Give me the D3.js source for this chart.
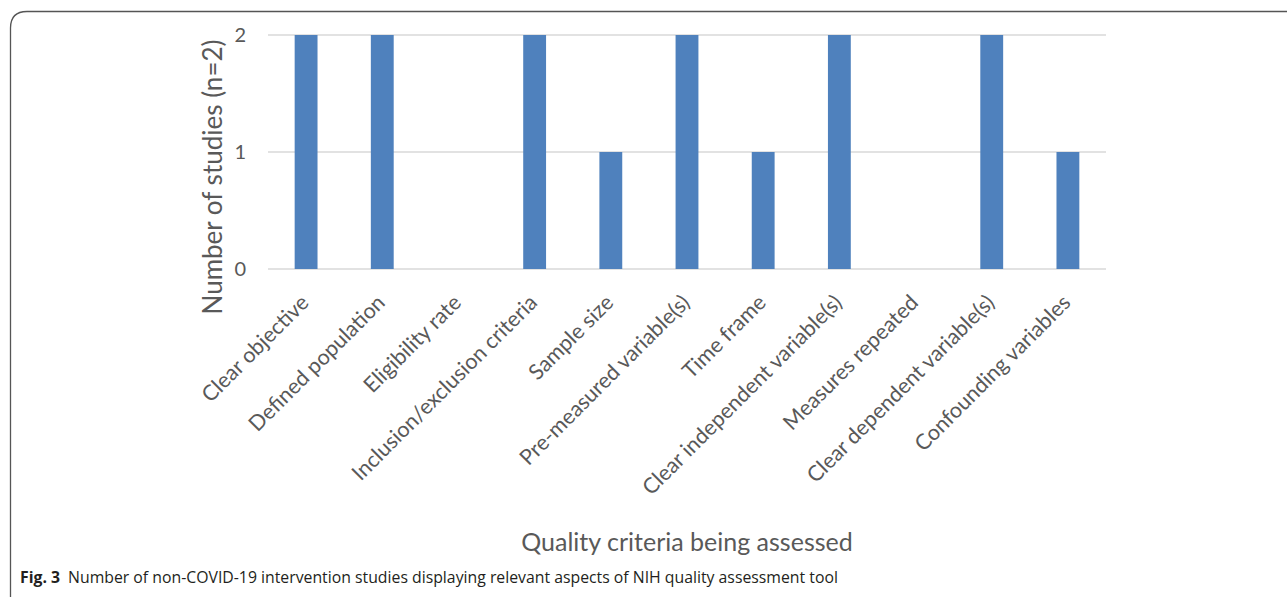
<!DOCTYPE html>
<html><head><meta charset="utf-8">
<script src="https://cdn.jsdelivr.net/npm/d3@7"></script>
<style>body{margin:0;background:#fff;} svg{display:block;}</style>
</head><body>
<svg id="c" width="1287" height="597"></svg>
<script>
const categories = ["Clear objective","Defined population","Eligibility rate","Inclusion/exclusion criteria","Sample size","Pre-measured variable(s)","Time frame","Clear independent variable(s)","Measures repeated","Clear dependent variable(s)","Confounding variables"];
const values = [2,2,0,2,1,2,1,2,0,2,1];
const yTicks = [0,1,2];

const svg = d3.select("#c");
const font = "Lato, 'Open Sans', sans-serif";
const plotL = 268, plotR = 1106, plotT = 35, plotB = 269;

// frame
svg.append("path")
  .attr("d", `M10.5,610 L10.5,28 Q10.5,11.5 27,11.5 L1300,11.5`)
  .attr("fill","none").attr("stroke","#555").attr("stroke-width",1.3);

const x = d3.scaleBand().domain(categories).range([plotL,plotR]).paddingInner(0.7).paddingOuter(0.35);
const y = d3.scaleLinear().domain([0,2]).range([plotB,plotT]);

const g = svg.append("g");
g.selectAll("line.grid").data(yTicks).join("line")
  .attr("x1",plotL).attr("x2",plotR)
  .attr("y1",d=>y(d)).attr("y2",d=>y(d))
  .attr("stroke","#d9d9d9").attr("stroke-width",1.3);

g.selectAll("rect").data(values).join("rect")
  .attr("x",(d,i)=>x(categories[i]))
  .attr("width",x.bandwidth())
  .attr("y",d=>y(d))
  .attr("height",d=>y(0)-y(d))
  .attr("fill","#4f81bd");

const ya = d3.axisLeft(y).tickValues(yTicks).tickSize(0).tickPadding(22).tickFormat(d3.format("d"));
const yg = svg.append("g").attr("transform",`translate(${plotL},0)`).call(ya);
yg.select(".domain").remove();
yg.selectAll("text").attr("font-family",font).attr("font-size",20).attr("fill","#595959");

const xa = d3.axisBottom(x).tickSize(0).tickPadding(0);
const xg = svg.append("g").attr("transform",`translate(0,${plotB})`).call(xa);
xg.select(".domain").remove();
xg.selectAll("text")
  .attr("font-family",font).attr("font-size",21.5).attr("fill","#595959")
  .attr("text-anchor","end")
  .attr("dy",0).attr("y",0)
  .attr("transform","translate(4,35) rotate(-45)");

svg.append("text").attr("transform","translate(222,177) rotate(-90)")
  .attr("text-anchor","middle").attr("font-family",font).attr("font-size",26).attr("fill","#595959")
  .text("Number of studies (n=2)");
svg.append("text").attr("x",687).attr("y",551)
  .attr("text-anchor","middle").attr("font-family",font).attr("font-size",25).attr("fill","#595959")
  .text("Quality criteria being assessed");

const cap = svg.append("text").attr("x",20).attr("y",583).attr("font-family","'Open Sans', sans-serif").attr("font-size",15.8).attr("fill","#231f20");
cap.append("tspan").attr("font-weight","bold").text("Fig. 3");
cap.append("tspan").attr("dx",8).text("Number of non-COVID-19 intervention studies displaying relevant aspects of NIH quality assessment tool");
</script>
</body></html>
